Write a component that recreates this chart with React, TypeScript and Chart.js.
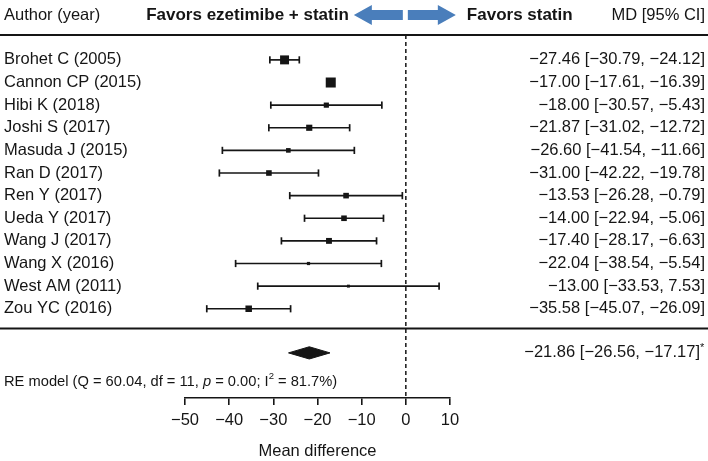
import React, { useEffect, useRef } from 'react';
import { Chart, registerables } from 'chart.js';

Chart.register(...registerables);

// ---------- data ----------
const studies = [
  'Brohet C (2005)',
  'Cannon CP (2015)',
  'Hibi K (2018)',
  'Joshi S (2017)',
  'Masuda J (2015)',
  'Ran D (2017)',
  'Ren Y (2017)',
  'Ueda Y (2017)',
  'Wang J (2017)',
  'Wang X (2016)',
  'West AM (2011)',
  'Zou YC (2016)',
];
const md = [-27.46, -17.0, -18.0, -21.87, -26.6, -31.0, -13.53, -14.0, -17.4, -22.04, -13.0, -35.58];
const ciLow = [-30.79, -17.61, -30.57, -31.02, -41.54, -42.22, -26.28, -22.94, -28.17, -38.54, -33.53, -45.07];
const ciHigh = [-24.12, -16.39, -5.43, -12.72, -11.66, -19.78, -0.79, -5.06, -6.63, -5.54, 7.53, -26.09];
// approximate relative study weights (%)
const weights = [12.8, 14.3, 7.4, 8.8, 6.6, 8.0, 8.0, 8.0, 8.4, 4.6, 4.2, 9.3];

const pooledMD = -21.86;
const pooledLow = -26.56;
const pooledHigh = -17.17;
const hetQ = 60.04;
const hetDf = 11;
const hetP = 0.0;
const hetI2 = 81.7;

const xTicks = [-50, -40, -30, -20, -10, 0, 10];
const xTitle = 'Mean difference';
const headLeft = 'Author (year)';
const headRight = 'MD [95% CI]';
const favorsLeft = 'Favors ezetimibe + statin';
const favorsRight = 'Favors statin';

// ---------- styles ----------
const FONT = '"Liberation Sans", Arial, Helvetica, sans-serif';
const INK = '#151515';
const ARROW = '#4a7ebb';
const BOX_SCALE = 0.7; // px of box side per % weight
const Y_MIN = -0.1;
const Y_MAX = 15.94;
const POOLED_ROW = 13.95;
const RE_ROW = 15.22;
const SEP_ROW = 12.87;
const DIAMOND_H = 0.27;

const fmt = (v: number) => (v < 0 ? '\u2212' : '') + Math.abs(v).toFixed(2);
const fmtTick = (v: number) => (v < 0 ? '\u2212' : '') + Math.abs(v).toString();

const forestText = {
  id: 'forestText',
  afterDraw(chart: any) {
    const { ctx, chartArea } = chart;
    const x = chart.scales.x;
    const y = chart.scales.y;
    const W = chart.width;
    const z = x.getPixelForValue(0);
    ctx.save();

    // horizontal rules
    ctx.strokeStyle = INK;
    ctx.lineWidth = 2;
    const rTop = chartArea.top;
    const rSep = y.getPixelForValue(SEP_ROW);
    ctx.beginPath();
    ctx.moveTo(0, rTop);
    ctx.lineTo(W, rTop);
    ctx.moveTo(0, rSep);
    ctx.lineTo(W, rSep);
    ctx.stroke();

    ctx.fillStyle = INK;
    ctx.textBaseline = 'middle';

    // header
    const hy = chartArea.top - 20;
    ctx.font = `16.5px ${FONT}`;
    ctx.textAlign = 'left';
    ctx.fillText(headLeft, 4, hy);
    ctx.textAlign = 'right';
    ctx.fillText(headRight, W - 3, hy);
    ctx.font = `bold 17px ${FONT}`;
    ctx.textAlign = 'right';
    ctx.fillText(favorsLeft, z - 57, hy);
    ctx.textAlign = 'left';
    ctx.fillText(favorsRight, z + 61, hy);

    // arrows
    const drawArrow = (tail: number, tip: number, cy: number) => {
      const dir = Math.sign(tip - tail);
      const headL = 18;
      const shaftH = 10;
      const headH = 20;
      const neck = tip - dir * headL;
      ctx.beginPath();
      ctx.moveTo(tail, cy - shaftH / 2);
      ctx.lineTo(neck, cy - shaftH / 2);
      ctx.lineTo(neck, cy - headH / 2);
      ctx.lineTo(tip, cy);
      ctx.lineTo(neck, cy + headH / 2);
      ctx.lineTo(neck, cy + shaftH / 2);
      ctx.lineTo(tail, cy + shaftH / 2);
      ctx.closePath();
      ctx.fill();
    };
    ctx.fillStyle = ARROW;
    drawArrow(z - 3, z - 52, hy);
    drawArrow(z + 2, z + 50, hy);

    // study rows
    ctx.fillStyle = INK;
    ctx.font = `16.5px ${FONT}`;
    studies.forEach((s, i) => {
      const py = y.getPixelForValue(i + 1);
      ctx.textAlign = 'left';
      ctx.fillText(s, 4, py);
      ctx.textAlign = 'right';
      ctx.fillText(`${fmt(md[i])} [${fmt(ciLow[i])}, ${fmt(ciHigh[i])}]`, W - 3, py);
    });

    // pooled row
    const py = y.getPixelForValue(POOLED_ROW);
    ctx.textAlign = 'right';
    ctx.fillText(`${fmt(pooledMD)} [${fmt(pooledLow)}, ${fmt(pooledHigh)}]`, W - 8, py);
    ctx.font = `11px ${FONT}`;
    ctx.textAlign = 'left';
    ctx.fillText('*', W - 8, py - 5);

    // RE model text
    const ry = y.getPixelForValue(RE_ROW);
    const parts: [string, string, number][] = [
      [`RE model (Q = ${hetQ.toFixed(2)}, df = ${hetDf}, `, `14.7px ${FONT}`, 0],
      ['p', `italic 14.7px ${FONT}`, 0],
      [` = ${hetP.toFixed(2)}; I`, `14.7px ${FONT}`, 0],
      ['2', `9.5px ${FONT}`, -5],
      [` = ${hetI2.toFixed(1)}%)`, `14.7px ${FONT}`, 0],
    ];
    let cx = 4;
    ctx.textAlign = 'left';
    for (const [t, f, dy] of parts) {
      ctx.font = f;
      ctx.fillText(t, cx, ry + dy);
      cx += ctx.measureText(t).width;
    }

    ctx.restore();
  },
};

export default function App() {
  const ref = useRef<HTMLCanvasElement | null>(null);

  useEffect(() => {
    if (!ref.current) return;
    const boxes: any = {
      type: 'scatter',
      label: 'MD',
      data: md.map((v, i) => ({ x: v, y: i + 1 })),
      pointStyle: 'rect',
      pointRadius: weights.map((w) => (w * BOX_SCALE) / Math.SQRT2),
      pointBackgroundColor: INK,
      pointBorderWidth: 0,
      backgroundColor: INK,
      order: 0,
    };
    const whiskers: any[] = studies.map((s, i) => ({
      type: 'line',
      label: s,
      data: [
        { x: ciLow[i], y: i + 1 },
        { x: ciHigh[i], y: i + 1 },
      ],
      borderColor: INK,
      borderWidth: 1.7,
      pointStyle: 'line',
      pointRotation: 90,
      pointRadius: 3.6,
      pointBorderColor: INK,
      pointBorderWidth: 1.7,
      fill: false,
      order: 1,
    }));
    const diamond: any = {
      type: 'line',
      label: 'RE model',
      data: [
        { x: pooledLow, y: POOLED_ROW },
        { x: pooledMD, y: POOLED_ROW - DIAMOND_H },
        { x: pooledHigh, y: POOLED_ROW },
        { x: pooledMD, y: POOLED_ROW + DIAMOND_H },
        { x: pooledLow, y: POOLED_ROW },
      ],
      borderColor: INK,
      borderWidth: 1,
      backgroundColor: INK,
      fill: 'shape',
      pointRadius: 0,
      tension: 0,
      order: 2,
    };
    const zeroLine: any = {
      type: 'line',
      label: 'zero',
      data: [
        { x: 0, y: Y_MIN },
        { x: 0, y: Y_MAX },
      ],
      borderColor: INK,
      borderWidth: 1.5,
      borderDash: [4, 3],
      pointRadius: 0,
      fill: false,
      order: 3,
    };

    const chart = new Chart(ref.current, {
      type: 'scatter',
      data: { datasets: [boxes, ...whiskers, diamond, zeroLine] },
      options: {
        responsive: false,
        animation: false,
        events: [],
        layout: { padding: { left: 185, right: 258, top: 35, bottom: 0 } },
        plugins: {
          legend: { display: false },
          tooltip: { enabled: false },
        },
        scales: {
          x: {
            type: 'linear',
            min: xTicks[0],
            max: xTicks[xTicks.length - 1],
            afterBuildTicks: (s: any) => {
              s.ticks = xTicks.map((v) => ({ value: v }));
            },
            ticks: {
              callback: (v: any) => fmtTick(Number(v)),
              color: INK,
              font: { family: FONT, size: 16.5 },
              padding: 6,
              maxRotation: 0,
              autoSkip: false,
            },
            grid: {
              drawOnChartArea: false,
              drawTicks: true,
              tickLength: 7,
              color: INK,
              lineWidth: 1.6,
            },
            border: { display: true, color: INK, width: 1.6 },
            title: {
              display: true,
              text: xTitle,
              color: INK,
              font: { family: FONT, size: 16.5 },
              padding: { top: 4.5, bottom: 0 },
            },
          },
          y: {
            type: 'linear',
            display: false,
            min: Y_MIN,
            max: Y_MAX,
            reverse: true,
          },
        },
      } as any,
      plugins: [forestText],
    });
    return () => chart.destroy();
  }, []);

  return (
    <div style={{ position: 'absolute', left: 0, top: 0, width: 708, height: 461, background: '#fff' }}>
      <canvas ref={ref} width={708} height={461} style={{ width: 708, height: 461, display: 'block' }} />
    </div>
  );
}
